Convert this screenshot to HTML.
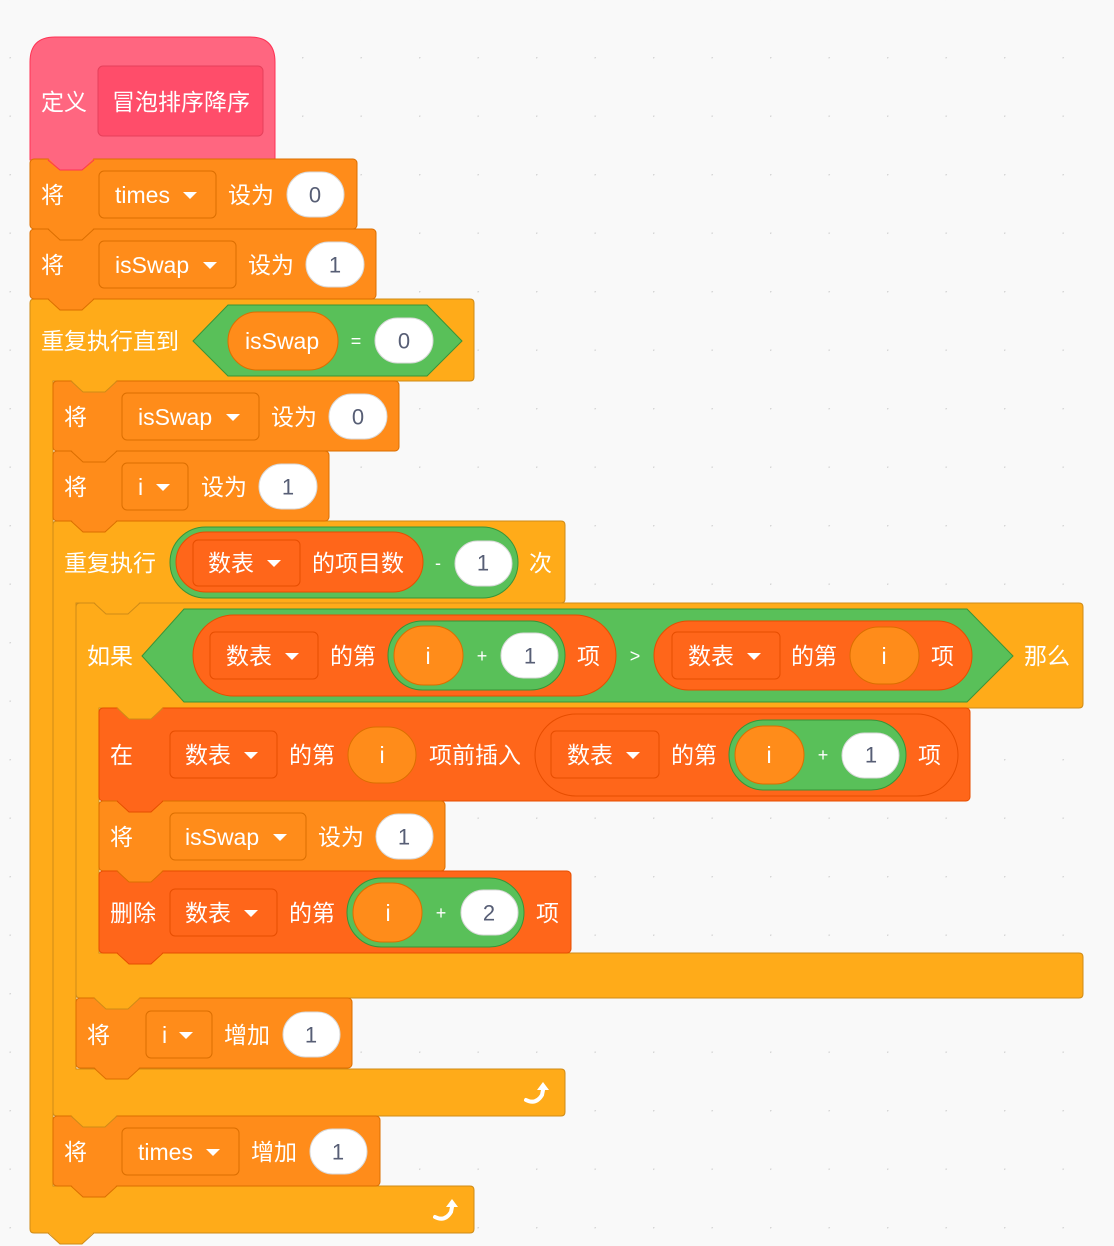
<!DOCTYPE html>
<html><head><meta charset="utf-8"><style>
html,body{margin:0;padding:0;background:#F9F9F9;}
svg{display:block}
text{font-family:"Liberation Sans","Noto Sans CJK SC",sans-serif;font-size:23px;fill:#fff;dominant-baseline:central}
.n{fill:#575E75;text-anchor:middle;font-size:22px}
.op{font-size:18px;text-anchor:middle}
.ctrl{fill:#FFAB19;stroke:#CF8B17;stroke-width:1}
.var{fill:#FF8C1A;stroke:#DB6E00;stroke-width:1}
.lst{fill:#FF661A;stroke:#E64D00;stroke-width:1}
.opb{fill:#59C059;stroke:#389438;stroke-width:1}
.wh{fill:#fff;stroke:#d9d9d9;stroke-width:1}
</style></head><body>
<svg width="1114" height="1246" viewBox="0 0 1114 1246" xmlns="http://www.w3.org/2000/svg">
<defs>
<pattern id="dots" x="9.5" y="-1.5" width="58.5" height="58.5" patternUnits="userSpaceOnUse"><circle cx="0" cy="0" r="1.6" fill="#d6d6d6"/></pattern>
</defs>
<rect width="1114" height="1246" fill="url(#dots)"/>

<!-- define hat -->
<path d="M30,160 V62 Q30,37 55,37 H250 Q275,37 275,62 V160 Z" fill="#FF6680" stroke="#FF3355"/>
<rect x="98" y="66" width="165" height="70" rx="5" fill="#FF4D6A" stroke="#E6405B"/>
<text x="41" y="102">定义</text>
<text x="112" y="102">冒泡排序降序</text>

<!-- repeat until C -->
<path d="M34,299 H470 Q474,299 474,303 V377 Q474,381 470,381 H53 V1186 H470 Q474,1186 474,1190 V1229 Q474,1233 470,1233 H34 Q30,1233 30,1229 V303 Q30,299 34,299 Z" class="ctrl"/>
<text x="41" y="341">重复执行直到</text>
<polygon points="193,341 228,305 427,305 462,341 427,376 228,376" class="opb"/>
<rect x="228" y="312" width="110" height="58" rx="29" class="var"/>
<text x="245" y="341">isSwap</text>
<text x="356" y="341" class="op">=</text>
<rect x="375" y="318" width="58" height="45" rx="22.5" class="wh"/>
<text x="404" y="341" class="n">0</text>

<!-- repeat C -->
<path d="M57,521 H561 Q565,521 565,525 V599 Q565,603 561,603 H76 V1069 H561 Q565,1069 565,1073 V1112 Q565,1116 561,1116 H57 Q53,1116 53,1112 V525 Q53,521 57,521 Z" class="ctrl"/>
<text x="64" y="563">重复执行</text>
<rect x="170" y="527" width="348" height="71" rx="35.5" class="opb"/>
<rect x="176" y="532" width="247" height="60" rx="30" class="lst"/>
<rect x="193" y="540" width="107" height="46" rx="5" class="lst"/>
<text x="208" y="563">数表</text>
<polygon points="267,560 281,560 274,567" fill="#fff"/>
<text x="312" y="563">的项目数</text>
<text x="438" y="563" class="op">-</text>
<rect x="455" y="541" width="57" height="45" rx="22.5" class="wh"/>
<text x="483" y="563" class="n">1</text>
<text x="529" y="563">次</text>

<!-- if C -->
<path d="M80,603 H1079 Q1083,603 1083,607 V704 Q1083,708 1079,708 H99 V953 H1079 Q1083,953 1083,957 V994 Q1083,998 1079,998 H80 Q76,998 76,994 V607 Q76,603 80,603 Z" class="ctrl"/>
<text x="87" y="656">如果</text>
<polygon points="142,656 184,609 967,609 1013,656 967,702 184,702" class="opb"/>
<rect x="193" y="615" width="423" height="81" rx="40.5" class="lst"/>
<rect x="210" y="632" width="108" height="47" rx="5" class="lst"/>
<text x="226" y="656">数表</text>
<polygon points="285,653 299,653 292,660" fill="#fff"/>
<text x="330" y="656">的第</text>
<rect x="388" y="621" width="177" height="69" rx="34.5" class="opb"/>
<rect x="394" y="626" width="69" height="59" rx="29.5" class="var"/>
<text x="428" y="656" style="text-anchor:middle">i</text>
<text x="482" y="656" class="op">+</text>
<rect x="501" y="633" width="57" height="45" rx="22.5" class="wh"/>
<text x="530" y="656" class="n">1</text>
<text x="577" y="656">项</text>
<text x="635" y="656" class="op">&gt;</text>
<rect x="654" y="621" width="318" height="69" rx="34.5" class="lst"/>
<rect x="672" y="632" width="108" height="47" rx="5" class="lst"/>
<text x="688" y="656">数表</text>
<polygon points="747,653 761,653 754,660" fill="#fff"/>
<text x="791" y="656">的第</text>
<rect x="850" y="627" width="69" height="57" rx="28.5" class="var"/>
<text x="884" y="656" style="text-anchor:middle">i</text>
<text x="931" y="656">项</text>
<text x="1024" y="656">那么</text>

<!-- insert -->
<rect x="99" y="708" width="871" height="93" rx="4" class="lst"/>
<text x="110" y="755">在</text>
<rect x="170" y="731" width="107" height="47" rx="5" class="lst"/>
<text x="185" y="755">数表</text>
<polygon points="244,752 258,752 251,759" fill="#fff"/>
<text x="289" y="755">的第</text>
<rect x="348" y="727" width="68" height="56" rx="28" class="var"/>
<text x="382" y="755" style="text-anchor:middle">i</text>
<text x="429" y="755">项前插入</text>
<rect x="535" y="714" width="423" height="82" rx="41" class="lst"/>
<rect x="551" y="731" width="108" height="47" rx="5" class="lst"/>
<text x="567" y="755">数表</text>
<polygon points="626,752 640,752 633,759" fill="#fff"/>
<text x="671" y="755">的第</text>
<rect x="729" y="720" width="177" height="70" rx="35" class="opb"/>
<rect x="735" y="726" width="69" height="58" rx="29" class="var"/>
<text x="769" y="755" style="text-anchor:middle">i</text>
<text x="823" y="755" class="op">+</text>
<rect x="842" y="733" width="57" height="45" rx="22.5" class="wh"/>
<text x="871" y="755" class="n">1</text>
<text x="918" y="755">项</text>

<!-- set isSwap 1 -->
<rect x="99" y="801" width="346" height="70" rx="4" class="var"/>
<text x="110" y="837">将</text>
<rect x="170" y="813" width="136" height="47" rx="5" class="var"/>
<text x="185" y="837">isSwap</text>
<polygon points="273,834 287,834 280,841" fill="#fff"/>
<text x="318" y="837">设为</text>
<rect x="376" y="814" width="57" height="45" rx="22.5" class="wh"/>
<text x="404" y="837" class="n">1</text>

<!-- delete -->
<rect x="99" y="871" width="472" height="82" rx="4" class="lst"/>
<text x="110" y="913">删除</text>
<rect x="170" y="889" width="107" height="47" rx="5" class="lst"/>
<text x="185" y="913">数表</text>
<polygon points="244,910 258,910 251,917" fill="#fff"/>
<text x="289" y="913">的第</text>
<rect x="347" y="878" width="177" height="69" rx="34.5" class="opb"/>
<rect x="353" y="883" width="69" height="59" rx="29.5" class="var"/>
<text x="388" y="913" style="text-anchor:middle">i</text>
<text x="441" y="913" class="op">+</text>
<rect x="461" y="890" width="57" height="45" rx="22.5" class="wh"/>
<text x="489" y="913" class="n">2</text>
<text x="536" y="913">项</text>

<!-- set times 0 -->
<rect x="30" y="159" width="327" height="70" rx="4" class="var"/>
<text x="41" y="195">将</text>
<rect x="99" y="171" width="117" height="47" rx="5" class="var"/>
<text x="115" y="195">times</text>
<polygon points="183,192 197,192 190,199" fill="#fff"/>
<text x="228" y="195">设为</text>
<rect x="287" y="172" width="57" height="45" rx="22.5" class="wh"/>
<text x="315" y="195" class="n">0</text>

<!-- set isSwap 1 top -->
<rect x="30" y="229" width="346" height="70" rx="4" class="var"/>
<text x="41" y="265">将</text>
<rect x="99" y="241" width="137" height="47" rx="5" class="var"/>
<text x="115" y="265">isSwap</text>
<polygon points="203,262 217,262 210,269" fill="#fff"/>
<text x="248" y="265">设为</text>
<rect x="306" y="242" width="58" height="45" rx="22.5" class="wh"/>
<text x="335" y="265" class="n">1</text>

<!-- set isSwap 0 -->
<rect x="53" y="381" width="346" height="70" rx="4" class="var"/>
<text x="64" y="417">将</text>
<rect x="122" y="393" width="137" height="47" rx="5" class="var"/>
<text x="138" y="417">isSwap</text>
<polygon points="226,414 240,414 233,421" fill="#fff"/>
<text x="271" y="417">设为</text>
<rect x="329" y="394" width="58" height="45" rx="22.5" class="wh"/>
<text x="358" y="417" class="n">0</text>

<!-- set i 1 -->
<rect x="53" y="451" width="276" height="70" rx="4" class="var"/>
<text x="64" y="487">将</text>
<rect x="122" y="463" width="66" height="47" rx="5" class="var"/>
<text x="138" y="487">i</text>
<polygon points="156,484 170,484 163,491" fill="#fff"/>
<text x="201" y="487">设为</text>
<rect x="259" y="464" width="58" height="45" rx="22.5" class="wh"/>
<text x="288" y="487" class="n">1</text>

<!-- change i -->
<rect x="76" y="998" width="276" height="70" rx="4" class="var"/>
<text x="87" y="1035">将</text>
<rect x="146" y="1011" width="66" height="47" rx="5" class="var"/>
<text x="162" y="1035">i</text>
<polygon points="179,1032 193,1032 186,1039" fill="#fff"/>
<text x="224" y="1035">增加</text>
<rect x="283" y="1012" width="57" height="45" rx="22.5" class="wh"/>
<text x="311" y="1035" class="n">1</text>

<!-- change times -->
<rect x="53" y="1116" width="327" height="70" rx="4" class="var"/>
<text x="64" y="1152">将</text>
<rect x="122" y="1128" width="117" height="47" rx="5" class="var"/>
<text x="138" y="1152">times</text>
<polygon points="206,1149 220,1149 213,1156" fill="#fff"/>
<text x="251" y="1152">增加</text>
<rect x="310" y="1129" width="57" height="45" rx="22.5" class="wh"/>
<text x="338" y="1152" class="n">1</text>

<!-- tabs: fill without top edge stroke -->
<g stroke-width="1">
<path d="M48,158 L60,170 H82 L94,158 Z" fill="#FF6680"/><path d="M48,160 L60,170 H82 L94,160" fill="none" stroke="#FF3355"/>
<path d="M48,228 L60,240 H82 L94,228 Z" fill="#FF8C1A"/><path d="M48,229 L60,240 H82 L94,229" fill="none" stroke="#DB6E00"/>
<path d="M48,298 L60,310 H82 L94,298 Z" fill="#FF8C1A"/><path d="M48,299 L60,310 H82 L94,299" fill="none" stroke="#DB6E00"/>
<path d="M71,380 L83,392 H105 L117,380 Z" fill="#FFAB19"/><path d="M71,381 L83,392 H105 L117,381" fill="none" stroke="#CF8B17"/>
<path d="M71,450 L83,462 H105 L117,450 Z" fill="#FF8C1A"/><path d="M71,451 L83,462 H105 L117,451" fill="none" stroke="#DB6E00"/>
<path d="M71,520 L83,532 H105 L117,520 Z" fill="#FF8C1A"/><path d="M71,521 L83,532 H105 L117,521" fill="none" stroke="#DB6E00"/>
<path d="M94,602 L106,614 H128 L140,602 Z" fill="#FFAB19"/><path d="M94,603 L106,614 H128 L140,603" fill="none" stroke="#CF8B17"/>
<path d="M117,707 L129,719 H151 L163,707 Z" fill="#FFAB19"/><path d="M117,708 L129,719 H151 L163,708" fill="none" stroke="#CF8B17"/>
<path d="M117,800 L129,812 H151 L163,800 Z" fill="#FF661A"/><path d="M117,801 L129,812 H151 L163,801" fill="none" stroke="#E64D00"/>
<path d="M117,870 L129,882 H151 L163,870 Z" fill="#FF8C1A"/><path d="M117,871 L129,882 H151 L163,871" fill="none" stroke="#DB6E00"/>
<path d="M117,952 L129,964 H151 L163,952 Z" fill="#FF661A"/><path d="M117,953 L129,964 H151 L163,953" fill="none" stroke="#E64D00"/>
<path d="M94,997 L106,1009 H128 L140,997 Z" fill="#FFAB19"/><path d="M94,998 L106,1009 H128 L140,998" fill="none" stroke="#CF8B17"/>
<path d="M94,1067 L106,1079 H128 L140,1067 Z" fill="#FF8C1A"/><path d="M94,1068 L106,1079 H128 L140,1068" fill="none" stroke="#DB6E00"/>
<path d="M71,1115 L83,1127 H105 L117,1115 Z" fill="#FFAB19"/><path d="M71,1116 L83,1127 H105 L117,1116" fill="none" stroke="#CF8B17"/>
<path d="M71,1185 L83,1197 H105 L117,1185 Z" fill="#FF8C1A"/><path d="M71,1186 L83,1197 H105 L117,1186" fill="none" stroke="#DB6E00"/>
<path d="M48,1232 L60,1244 H82 L94,1232 Z" fill="#FFAB19"/><path d="M48,1233 L60,1244 H82 L94,1233" fill="none" stroke="#CF8B17"/>
</g>

<!-- loop arrows -->
<g transform="translate(538,1093)">
<path d="M-12,7 Q-2,12 4,2 L5,-3" fill="none" stroke="#fff" stroke-width="4" stroke-linecap="round"/>
<polygon points="-1,-3 11,-3 5,-11" fill="#fff"/>
</g>
<g transform="translate(447,1210)">
<path d="M-12,7 Q-2,12 4,2 L5,-3" fill="none" stroke="#fff" stroke-width="4" stroke-linecap="round"/>
<polygon points="-1,-3 11,-3 5,-11" fill="#fff"/>
</g>
</svg>
</body></html>
